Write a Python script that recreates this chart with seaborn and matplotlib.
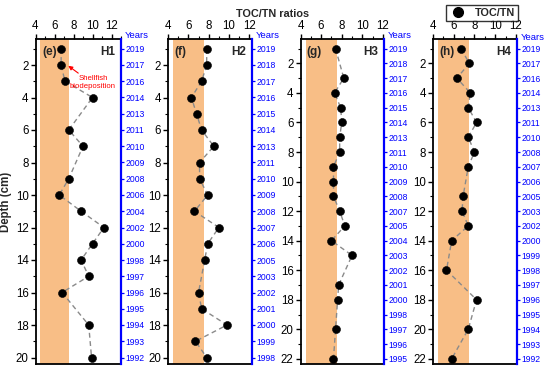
import numpy as np
import pandas as pd
import seaborn as sns
import matplotlib
matplotlib.use("Agg")
import matplotlib.pyplot as plt
from matplotlib.ticker import MultipleLocator
from matplotlib.lines import Line2D

sns.set_theme(style="ticks")
plt.rcParams["font.family"] = ["Liberation Sans", "DejaVu Sans"]

# ---------------- data ----------------
H1_depth = [1, 2, 3, 4, 6, 7, 9, 10, 11, 12, 13, 14, 15, 16, 18, 20]
H1_ratio = [6.7, 6.7, 7.1, 10.0, 7.5, 9.0, 7.5, 6.5, 8.8, 11.2, 10.0, 8.8, 9.6, 6.8, 9.6, 9.9]
H1_years = [2019, 2017, 2016, 2014, 2013, 2011, 2010, 2009, 2008, 2006,
            2004, 2002, 2000, 1998, 1997, 1996, 1995, 1994, 1993, 1992]

H2_depth = [1, 2, 3, 4, 5, 6, 7, 8, 9, 10, 11, 12, 13, 14, 16, 17, 18, 19, 20]
H2_ratio = [7.8, 7.8, 7.3, 6.3, 6.8, 7.3, 8.5, 7.1, 7.1, 7.9, 6.6, 9.0, 7.9, 7.6, 7.0, 7.3, 9.8, 6.7, 7.8]
H2_years = [2019, 2018, 2017, 2016, 2015, 2014, 2013, 2011, 2010, 2009,
            2008, 2007, 2006, 2005, 2003, 2002, 2001, 2000, 1999, 1998]

H3_depth = [1, 3, 4, 5, 6, 7, 8, 9, 10, 11, 12, 13, 14, 15, 17, 18, 20, 22]
H3_ratio = [7.4, 8.2, 7.3, 7.9, 8.0, 7.8, 7.8, 7.2, 7.2, 7.2, 7.8, 8.3, 7.0, 9.0, 7.7, 7.6, 7.4, 7.2]
H3_years = [2019, 2018, 2017, 2016, 2015, 2014, 2013, 2011, 2010, 2009, 2008,
            2007, 2005, 2004, 2003, 2002, 2001, 2000, 1998, 1997, 1996, 1995]

H4_depth = [1, 2, 3, 4, 5, 6, 7, 8, 9, 11, 12, 13, 14, 16, 18, 20, 22]
H4_ratio = [6.7, 7.5, 6.3, 7.6, 7.4, 8.2, 7.4, 8.0, 7.4, 6.9, 6.8, 7.4, 5.8, 5.3, 8.2, 7.4, 5.8]
H4_years = [2019, 2017, 2016, 2014, 2013, 2011, 2010, 2008, 2007, 2006, 2005,
            2003, 2002, 2000, 1999, 1998, 1997, 1996, 1995, 1994, 1993, 1992]

panel_letters = ["(e)", "(f)", "(g)", "(h)"]
panel_names = ["H1", "H2", "H3", "H4"]
x_ticks = [4, 6, 8, 10, 12]
band_range = (4.5, 7.5)

panels = [
    (H1_depth, H1_ratio, H1_years),
    (H2_depth, H2_ratio, H2_years),
    (H3_depth, H3_ratio, H3_years),
    (H4_depth, H4_ratio, H4_years),
]

# ---------------- layout ----------------
W, H = 550, 372
fig = plt.figure(figsize=(W / 100, H / 100), dpi=100)
boxes = [(35.5, 121), (168, 252), (300.5, 384), (433, 517)]
xlims = [(4, 13), (4, 12.25), (4, 12.1), (4, 12.1)]
ylims = [(20.4, 0.4), (20.4, 0.4), (22.35, 0.35), (22.35, 0.35)]
top_px, bot_px = 39, 364
orange = "#F8BE86"
blue = "#0000FF"

for i, (d, v, yrs) in enumerate(panels):
    l, r = boxes[i]
    ax = fig.add_axes([l / W, 1 - bot_px / H, (r - l) / W, (bot_px - top_px) / H])
    ax.axvspan(*band_range, color=orange, lw=0, zorder=0)
    df = pd.DataFrame({"depth": d, "ratio": v})
    sns.lineplot(data=df, x="ratio", y="depth", orient="y", estimator=None, sort=True,
                 ax=ax, color="#8a8a8a", lw=1.0, zorder=2)
    ax.lines[-1].set_dashes([3.5, 2.5])
    sns.scatterplot(data=df, x="ratio", y="depth", ax=ax, color="black", s=33,
                    edgecolor="black", linewidth=0.4, zorder=3)
    ax.set_xlim(*xlims[i])
    ax.set_ylim(*ylims[i])
    ax.xaxis.tick_top()
    ax.set_xticks(x_ticks)
    ax.xaxis.set_minor_locator(MultipleLocator(1))
    ax.yaxis.set_major_locator(MultipleLocator(2))
    ax.yaxis.set_minor_locator(MultipleLocator(1))
    ax.tick_params(which="major", direction="out", length=3.5, width=1.0,
                   labelsize=8.3, pad=1.5, color="black", labelcolor="black")
    ax.tick_params(which="minor", direction="out", length=2, width=0.8, color="black")
    ax.tick_params(axis="x", which="both", top=True, bottom=False, labeltop=True, labelbottom=False)
    ax.tick_params(axis="y", which="both", left=True, right=False)
    ax.set_xlabel("")
    if i == 0:
        ax.set_ylabel("Depth (cm)", fontsize=8.3, fontweight="bold")
        ax.yaxis.set_label_coords(-0.27, 0.5)
    else:
        ax.set_ylabel("")
    for s in ["top", "left", "bottom"]:
        ax.spines[s].set_linewidth(1.3)
        ax.spines[s].set_color("black")
    ax.spines["right"].set_visible(False)

    ax.text(0.075, 0.96, panel_letters[i], transform=ax.transAxes, fontsize=8.5,
            fontweight="bold", ha="left", va="center")
    ax.text(0.93, 0.96, panel_names[i], transform=ax.transAxes, fontsize=8.5,
            fontweight="bold", ha="right", va="center")

    ax2 = ax.twinx()
    ax2.set_ylim(ax.get_ylim())
    ax2.set_yticks(range(1, len(yrs) + 1))
    ax2.set_yticklabels([str(y) for y in yrs])
    ax2.tick_params(axis="y", direction="out", length=2, width=0.9, color=blue,
                    labelcolor=blue, labelsize=6.2, pad=1)
    ax2.spines["right"].set_color(blue)
    ax2.spines["right"].set_linewidth(1.6)
    for s in ["top", "left", "bottom"]:
        ax2.spines[s].set_visible(False)
    ax2.grid(False)

    yy = 35 if i < 3 else 38
    fig.text((r + 4) / W, 1 - yy / H, "Years", color=blue, fontsize=6.8,
             ha="left", va="center")

    if i == 0:
        ax.annotate("", xy=(7.45, 2.05), xytext=(8.5, 2.5),
                    arrowprops=dict(arrowstyle="-|>", color="red", lw=0.8,
                                    mutation_scale=6, shrinkA=0, shrinkB=0))
        ax.text(10.05, 3.05, "Shellfish\nbiodeposition", color="red", fontsize=5.6,
                ha="center", va="center")

fig.text(273 / W, 1 - 14 / H, "TOC/TN ratios", fontsize=7.8, fontweight="bold",
         ha="center", va="center")

handle = Line2D([], [], marker="o", color="black", linestyle="none", markersize=7)
leg = fig.legend([handle], ["TOC/TN"], loc="center", bbox_to_anchor=(482 / W, 1 - 13 / H),
                 frameon=True, fancybox=False, edgecolor="black",
                 prop={"weight": "bold", "size": 7.8}, handletextpad=0.8,
                 borderpad=0.3, handlelength=1.6)
leg.get_frame().set_linewidth(1.0)

fig.savefig("out.png", dpi=100)
